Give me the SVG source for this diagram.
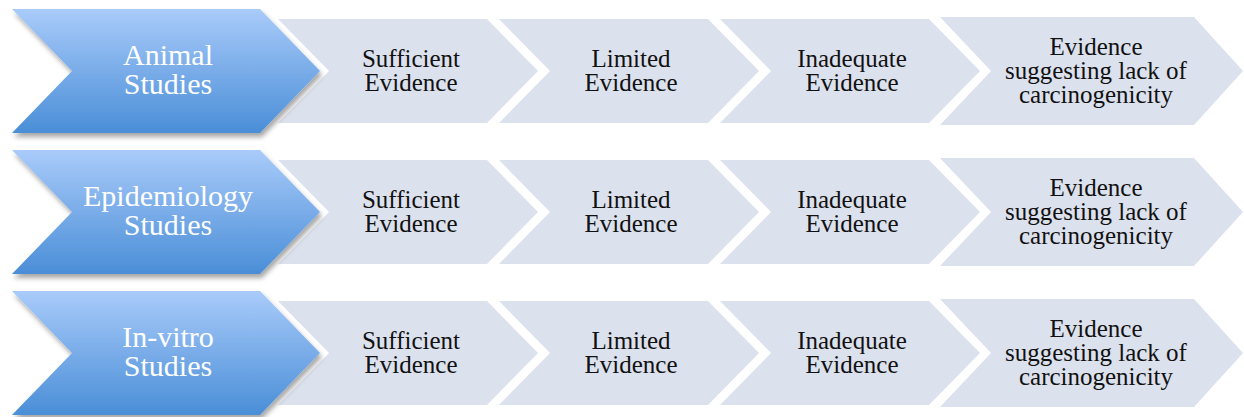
<svg xmlns="http://www.w3.org/2000/svg" width="1244" height="417" viewBox="0 0 1244 417">
<defs>
<linearGradient id="blueGrad" x1="0" y1="0" x2="0" y2="1">
<stop offset="0" stop-color="#a9cbfa"/>
<stop offset="1" stop-color="#4a8ed7"/>
</linearGradient>
<filter id="shadow" x="-10%" y="-10%" width="125%" height="135%">
<feDropShadow dx="2" dy="4" stdDeviation="2.5" flood-color="#000" flood-opacity="0.35"/>
</filter>
<path id="blueShape" d="M12,9 L260,9 L320,71 L260,133 L12,133 L72,71 Z"/>
<path id="grayShape" d="M0,19 H209 L260,71 L209,123 H0 L51,71 Z"/>
<path id="grayLast" d="M940,17 H1194 L1243,71 L1194,125 H940 L991,71 Z"/>
</defs>
<style>
.gray{fill:#dce1ee;}
.blue{fill:url(#blueGrad);filter:url(#shadow);}
.gt{font-family:"Liberation Serif","Times New Roman",serif;font-size:25px;fill:#111;text-anchor:middle;}
.bt{font-family:"Liberation Serif","Times New Roman",serif;font-size:30px;fill:#fff;text-anchor:middle;}
</style>
<rect width="1244" height="417" fill="#fff"/>
<g id="connectors"></g>

<!-- Row 1 -->
<g id="row1-g1"><use href="#grayShape" x="278" class="gray"/><text class="gt"><tspan x="411" y="67">Sufficient</tspan><tspan x="411" y="91">Evidence</tspan></text></g>
<g id="row1-g2"><use href="#grayShape" x="499" class="gray"/><text class="gt"><tspan x="631" y="67">Limited</tspan><tspan x="631" y="91">Evidence</tspan></text></g>
<g id="row1-g3"><use href="#grayShape" x="720" class="gray"/><text class="gt"><tspan x="852" y="67">Inadequate</tspan><tspan x="852" y="91">Evidence</tspan></text></g>
<g id="row1-g4"><use href="#grayLast" class="gray"/><text class="gt"><tspan x="1096" y="55">Evidence</tspan><tspan x="1096" y="79">suggesting lack of</tspan><tspan x="1096" y="103">carcinogenicity</tspan></text></g>
<g id="row1-head"><use href="#blueShape" class="blue"/><text class="bt"><tspan x="168" y="65">Animal</tspan><tspan x="168" y="94">Studies</tspan></text></g>

<!-- Row 2 -->
<g id="row2-g1"><use href="#grayShape" x="278" y="141" class="gray"/><text class="gt"><tspan x="411" y="208">Sufficient</tspan><tspan x="411" y="232">Evidence</tspan></text></g>
<g id="row2-g2"><use href="#grayShape" x="499" y="141" class="gray"/><text class="gt"><tspan x="631" y="208">Limited</tspan><tspan x="631" y="232">Evidence</tspan></text></g>
<g id="row2-g3"><use href="#grayShape" x="720" y="141" class="gray"/><text class="gt"><tspan x="852" y="208">Inadequate</tspan><tspan x="852" y="232">Evidence</tspan></text></g>
<g id="row2-g4"><use href="#grayLast" y="141" class="gray"/><text class="gt"><tspan x="1096" y="196">Evidence</tspan><tspan x="1096" y="220">suggesting lack of</tspan><tspan x="1096" y="244">carcinogenicity</tspan></text></g>
<g id="row2-head"><use href="#blueShape" y="141" class="blue"/><text class="bt"><tspan x="168" y="206">Epidemiology</tspan><tspan x="168" y="235">Studies</tspan></text></g>

<!-- Row 3 -->
<g id="row3-g1"><use href="#grayShape" x="278" y="282" class="gray"/><text class="gt"><tspan x="411" y="349">Sufficient</tspan><tspan x="411" y="373">Evidence</tspan></text></g>
<g id="row3-g2"><use href="#grayShape" x="499" y="282" class="gray"/><text class="gt"><tspan x="631" y="349">Limited</tspan><tspan x="631" y="373">Evidence</tspan></text></g>
<g id="row3-g3"><use href="#grayShape" x="720" y="282" class="gray"/><text class="gt"><tspan x="852" y="349">Inadequate</tspan><tspan x="852" y="373">Evidence</tspan></text></g>
<g id="row3-g4"><use href="#grayLast" y="282" class="gray"/><text class="gt"><tspan x="1096" y="337">Evidence</tspan><tspan x="1096" y="361">suggesting lack of</tspan><tspan x="1096" y="385">carcinogenicity</tspan></text></g>
<g id="row3-head"><use href="#blueShape" y="282" class="blue"/><text class="bt"><tspan x="168" y="347">In-vitro</tspan><tspan x="168" y="376">Studies</tspan></text></g>
</svg>
